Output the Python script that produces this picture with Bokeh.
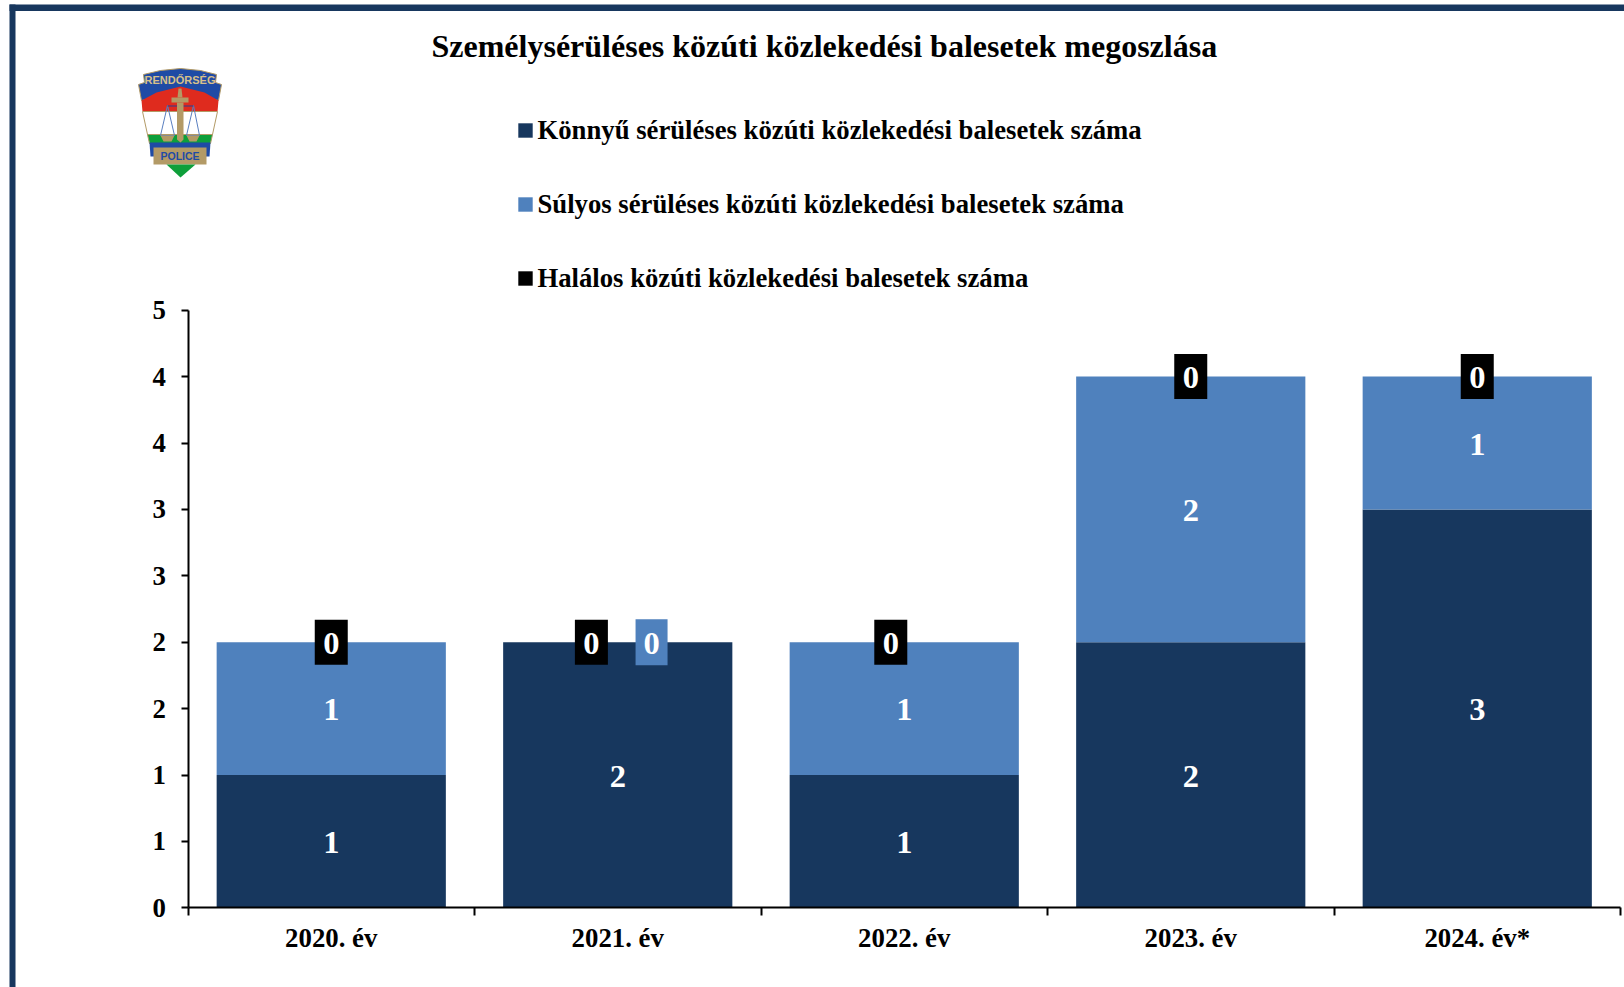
from bokeh.plotting import figure
from bokeh.embed import file_html
from bokeh.resources import INLINE
from bokeh.core.properties import value
from bokeh.models import (ColumnDataSource, FixedTicker, Legend, LegendItem, Range1d,
                          BoxAnnotation, PolyAnnotation, Label, LinearAxis)

categories = ["2020. év", "2021. év", "2022. év", "2023. év", "2024. év*"]
konnyu = [1, 2, 1, 2, 3]
sulyos = [1, 0, 1, 2, 1]
halalos = [0, 0, 0, 0, 0]
y_ticks = [0, 0.5, 1, 1.5, 2, 2.5, 3, 3.5, 4, 4.5]
y_tick_labels = ["0", "1", "1", "2", "2", "3", "3", "4", "4", "5"]
series_names = ["Könnyű sérüléses közúti közlekedési balesetek száma",
                "Súlyos sérüléses közúti közlekedési balesetek száma",
                "Halálos közúti közlekedési balesetek száma"]
title_text = "Személysérüléses közúti közlekedési balesetek megoszlása"

DARK, BLUE, BLACK, NAVY = "#17375E", "#4F81BD", "#000000", "#17375E"
SERIF = "Liberation Serif"

W, H = 1624, 987
PX0, PX5, PY0, PY45 = 187.5, 1620.0, 907.3, 309.7   # page pixels of the axis ends
ux = (PX5 - PX0) / 5
uy = (PY0 - PY45) / 4.5

p = figure(width=W, height=H, output_backend="svg", toolbar_location=None,
           x_range=Range1d(-PX0 / ux, (W - PX0) / ux),
           y_range=Range1d(-(H - PY0) / uy, PY0 / uy),
           min_border_left=0, min_border_right=0, min_border_top=0, min_border_bottom=0,
           outline_line_color=None, background_fill_color="white", border_fill_color="white",
           x_axis_type=None, y_axis_type=None)
p.grid.visible = False

# page pixel -> frame-relative "screen" units (frame fills the canvas)
def sx(v): return v
def sy(v): return H - v

n = len(categories)
centers = [i + 0.5 for i in range(n)]
src = ColumnDataSource(dict(x=centers, k=konnyu, s=sulyos, h=halalos,
                            k_top=konnyu,
                            s_top=[a + b for a, b in zip(konnyu, sulyos)],
                            h_top=[a + b + c for a, b, c in zip(konnyu, sulyos, halalos)]))
r1 = p.vbar(x="x", bottom=0, top="k_top", width=0.8, source=src, fill_color=DARK, line_color=None)
r2 = p.vbar(x="x", bottom="k_top", top="s_top", width=0.8, source=src, fill_color=BLUE, line_color=None)
r3 = p.vbar(x="x", bottom="s_top", top="h_top", width=0.8, source=src, fill_color=BLACK, line_color=None)

LBL = dict(text_font=value(SERIF), text_font_style="bold", text_font_size="32.5px",
           text_color="white", text_align="center", text_baseline="middle", y_offset=1)
p.text([c for c, v in zip(centers, konnyu) if v], [v / 2 for v in konnyu if v],
       text=[str(v) for v in konnyu if v], **LBL)
p.text([c for c, v in zip(centers, sulyos) if v],
       [k + v / 2 for k, v in zip(konnyu, sulyos) if v],
       text=[str(v) for v in sulyos if v], **LBL)

tops = src.data["h_top"]
shift_black = [0, -0.092, -0.047, 0, 0]
shift_blue = 0.118
hx = [c + d for c, d in zip(centers, shift_black)]
p.rect(hx, tops, width=33, height=45, width_units="screen", height_units="screen",
       fill_color=BLACK, line_color=None)
p.text(hx, tops, text=[str(v) for v in halalos], **LBL)
zx = [c + shift_blue for c, s in zip(centers, sulyos) if s == 0]
zy = [t for t, s in zip(tops, sulyos) if s == 0]
p.rect(zx, zy, width=32, height=46, width_units="screen", height_units="screen",
       fill_color=BLUE, line_color=None)
p.text(zx, zy, text=["0"] * len(zx), **LBL)

AX = dict(axis_line_color="black", axis_line_width=2, major_tick_line_color="black",
          major_tick_line_width=2, minor_tick_line_color="black", minor_tick_line_width=2,
          major_label_text_font=SERIF, major_label_text_font_style="bold",
          major_label_text_font_size="26.8px", major_label_text_color="black")
xa = LinearAxis(ticker=FixedTicker(ticks=centers, minor_ticks=list(range(n + 1))),
                major_label_overrides={c: t for c, t in zip(centers, categories)},
                major_tick_in=0, major_tick_out=0, minor_tick_in=0, minor_tick_out=8,
                major_label_standoff=7, fixed_location=0, bounds=(0, n), **AX)
p.add_layout(xa, "below")
ya = LinearAxis(ticker=FixedTicker(ticks=y_ticks),
                major_label_overrides={t: l for t, l in zip(y_ticks, y_tick_labels)},
                major_tick_in=0, major_tick_out=7, minor_tick_in=0, minor_tick_out=0,
                major_label_standoff=15, fixed_location=0, bounds=(0, 4.5), **AX)
p.add_layout(ya, "left")

p.add_layout(Label(x=sx(431), y=sy(45), x_units="screen", y_units="screen", text=title_text,
                   text_font=SERIF, text_font_style="bold", text_font_size="32px",
                   text_color="black", text_align="left", text_baseline="middle"))

legend = Legend(items=[LegendItem(label=series_names[0], renderers=[r1]),
                       LegendItem(label=series_names[1], renderers=[r2]),
                       LegendItem(label=series_names[2], renderers=[r3])],
                location=(sx(515.5), sy(293.6)), orientation="vertical", spacing=43, padding=0, margin=0,
                glyph_width=18, glyph_height=18, label_standoff=4, label_height=30,
                background_fill_alpha=0, border_line_color=None,
                label_text_font=SERIF, label_text_font_style="bold",
                label_text_font_size="26.7px", label_text_color="black")
p.add_layout(legend, "center")

def sbox(l, r, t, b):
    p.add_layout(BoxAnnotation(left=sx(l), right=sx(r), top=sy(t), bottom=sy(b),
                               left_units="screen", right_units="screen",
                               top_units="screen", bottom_units="screen",
                               fill_color=NAVY, fill_alpha=1, line_color=None, level="overlay",
                               editable=False))
sbox(9, 15, 4, 987)
sbox(9, 1624, 4, 10.5)

def poly(pts, fill=None, line=None, lw=1):
    p.add_layout(PolyAnnotation(xs=[sx(a) for a, _ in pts], ys=[sy(b) for _, b in pts],
                                xs_units="screen", ys_units="screen",
                                fill_color=fill or "white", fill_alpha=1 if fill else 0,
                                line_color=line or "white", line_alpha=1 if line else 0,
                                line_width=lw, level="overlay", editable=False))
TAN, EB, ER, EG = "#B39A66", "#1F4BA5", "#DF2B1E", "#0E9F3A"
poly([(143, 74), (160, 70), (180, 68), (200, 70), (216, 74), (215, 82), (221, 84), (218, 100),
      (204, 97), (180, 92), (156, 97), (141, 100), (138, 84), (144, 82)], EB, TAN)
poly([(141, 100), (156, 92), (180, 86), (204, 92), (218, 100), (217, 111), (142, 111)], ER)
poly([(142, 111), (217, 111), (212, 134), (147, 134)], "white", TAN)
poly([(147, 134), (212, 134), (210, 143), (149, 143)], EG, TAN)
poly([(149, 142), (210, 142), (209, 156), (150, 156)], EB)
poly([(153, 147), (206, 147), (206, 164), (153, 164)], TAN)
poly([(166, 164), (195, 164), (180, 177)], EG)
poly([(167, 105), (160, 135), (174, 135)], None, "#5A7FC0")
poly([(193, 105), (186, 135), (199, 135)], None, "#5A7FC0")
poly([(167, 105), (193, 105), (193, 106), (167, 106)], "#2A3F8F")
poly([(160, 135), (174, 135), (171, 141), (163, 141)], TAN)
poly([(186, 135), (199, 135), (196, 141), (189, 141)], TAN)
poly([(176.5, 102), (183, 102), (183, 139), (180, 142), (176.5, 139)], TAN)
poly([(171, 97), (188, 97), (188, 102), (171, 102)], TAN)
poly([(178, 88), (181, 88), (182, 97), (177, 97)], TAN)
p.add_layout(Label(x=sx(179.5), y=sy(79), x_units="screen", y_units="screen", text="RENDŐRSÉG",
                   text_font="Liberation Sans", text_font_style="bold", text_font_size="11px",
                   text_color="#D8C08A", text_align="center", text_baseline="middle", level="overlay"))
p.add_layout(Label(x=sx(179.5), y=sy(155.5), x_units="screen", y_units="screen", text="POLICE",
                   text_font="Liberation Sans", text_font_style="bold", text_font_size="10.5px",
                   text_color=EB, text_align="center", text_baseline="middle", level="overlay"))

open("out.html", "w").write(file_html(p, INLINE))
